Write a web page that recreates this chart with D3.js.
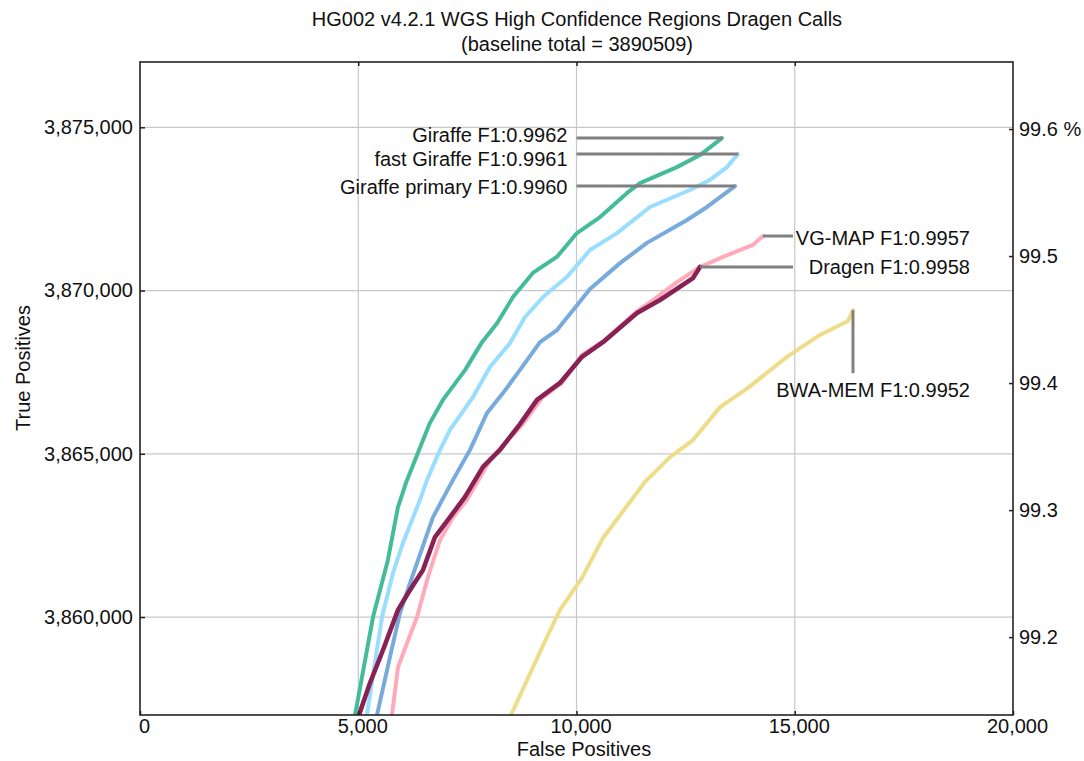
<!DOCTYPE html>
<html>
<head>
<meta charset="utf-8">
<script src="https://cdn.jsdelivr.net/npm/d3@7"></script>
<style>
  html, body { margin: 0; padding: 0; background: #fff; }
  svg { display: block; }
  text { font-family: "Liberation Sans", Arial, sans-serif; fill: #111; }
</style>
</head>
<body>
<svg id="chart" width="1084" height="761"></svg>
<script>
// ---------- data ----------
const titleLines = ["HG002 v4.2.1 WGS High Confidence Regions Dragen Calls", "(baseline total = 3890509)"];
const xAxisTitle = "False Positives";
const yAxisTitle = "True Positives";
const baselineTotal = 3890509;
const xTickValues = [0, 5000, 10000, 15000, 20000];
const yTickValues = [3860000, 3865000, 3870000, 3875000];
const pctTickValues = [99.2, 99.3, 99.4, 99.5, 99.6];

// [false positives, true positives]
const giraffe = [[4926,3857000],[5338,3860000],[5680,3861750],[5910,3863370],[6094,3864110],[6640,3865940],[6940,3866650],[7450,3867570],[7835,3868420],[8180,3869000],[8545,3869800],[9000,3870540],[9550,3871030],[10010,3871760],[10540,3872250],[11160,3872990],[11455,3873290],[12300,3873780],[12830,3874150],[13330,3874670]];
const fastGiraffe = [[5200,3857000],[5544,3860000],[5796,3861350],[6025,3862270],[6415,3863590],[6575,3864200],[6873,3865120],[7102,3865730],[7629,3866740],[8018,3867660],[8477,3868390],[8820,3869190],[9233,3869800],[9782,3870420],[10309,3871240],[10928,3871760],[11684,3872560],[12600,3873080],[13058,3873390],[13448,3873780],[13700,3874180]];
const giraffePrimary = [[5430,3857000],[5727,3858780],[5956,3860120],[6186,3861040],[6712,3863060],[7171,3864200],[7560,3865120],[7950,3866250],[8316,3866860],[8706,3867570],[9164,3868420],[9553,3868790],[9920,3869400],[10309,3870050],[10997,3870840],[11615,3871460],[12532,3872160],[12990,3872560],[13631,3873200]];
const vgMap = [[5773,3857000],[5911,3858470],[6117,3859200],[6346,3860000],[6598,3861230],[6873,3862360],[7171,3863060],[7491,3863590],[7720,3864110],[8018,3864810],[8362,3865330],[8751,3865880],[9210,3866710],[9668,3867170],[10126,3868030],[10653,3868490],[11386,3869370],[11753,3869710],[12302,3870260],[12829,3870720],[13356,3871030],[14044,3871400],[14273,3871670]];
const dragen = [[5017,3857000],[5269,3857980],[5567,3858990],[5911,3860220],[6186,3860830],[6483,3861440],[6758,3862450],[7102,3863060],[7446,3863680],[7858,3864600],[8247,3865120],[8706,3865910],[9095,3866650],[9622,3867170],[10126,3867970],[10607,3868420],[11386,3869310],[11913,3869710],[12669,3870380],[12829,3870720]];
const bwaMem = [[8500,3857000],[8866,3858070],[9324,3859390],[9622,3860220],[10126,3861200],[10607,3862420],[11569,3864140],[12142,3864900],[12669,3865420],[13288,3866430],[13929,3867020],[14822,3867970],[15578,3868640],[16220,3869070],[16334,3869400]];

const seriesNames = ["BWA-MEM F1:0.9952", "VG-MAP F1:0.9957", "Giraffe primary F1:0.9960", "fast Giraffe F1:0.9961", "Giraffe F1:0.9962", "Dragen F1:0.9958"];
const seriesData = [bwaMem, vgMap, giraffePrimary, fastGiraffe, giraffe, dragen];
const seriesColors = ["#EEDD88", "#FFAABB", "#77AADD", "#99DDFF", "#44BB99", "#882255"];

// ---------- layout ----------
const W = 1084, H = 761;
const margin = {top: 62, right: 71, bottom: 46, left: 140};
const iw = W - margin.left - margin.right;
const ih = H - margin.top - margin.bottom;
const FONT = 20;

const svg = d3.select("#chart");
const g = svg.append("g").attr("transform", `translate(${margin.left},${margin.top})`);

const x = d3.scaleLinear().domain([0, 20000]).range([0, iw]);
const y = d3.scaleLinear().domain([3857000, 3877000]).range([ih, 0]);
const yPct = d3.scaleLinear().domain(y.domain().map(v => v / baselineTotal * 100)).range([ih, 0]);

// gridlines
g.append("g").selectAll("line").data(xTickValues.slice(1, -1)).join("line")
  .attr("x1", d => x(d)).attr("x2", d => x(d)).attr("y1", 0).attr("y2", ih)
  .attr("stroke", "#c8c8c8").attr("stroke-width", 1.2);
g.append("g").selectAll("line").data(yTickValues).join("line")
  .attr("y1", d => y(d)).attr("y2", d => y(d)).attr("x1", 0).attr("x2", iw)
  .attr("stroke", "#c8c8c8").attr("stroke-width", 1.2);

// curves
g.append("clipPath").attr("id", "clip").append("rect").attr("width", iw).attr("height", ih);
const line = d3.line().x(d => x(d[0])).y(d => y(d[1]));
g.append("g").attr("clip-path", "url(#clip)").selectAll("path").data(seriesData).join("path")
  .attr("d", line)
  .attr("fill", "none")
  .attr("stroke", (d, i) => seriesColors[i])
  .attr("stroke-width", (d, i) => i === 5 ? 4.6 : 4)
  .attr("stroke-linejoin", "round")
  .attr("stroke-linecap", "round");

// axes
const axisStyle = sel => {
  sel.select(".domain").remove();
  sel.selectAll(".tick line").attr("stroke", "#222").attr("stroke-width", 1.5);
  sel.selectAll(".tick text").style("font-size", FONT + "px").style("font-family", '"Liberation Sans", Arial, sans-serif').attr("fill", "#111");
};
const fmt = d3.format(",");
g.append("g").attr("transform", `translate(0,${ih})`)
  .call(d3.axisBottom(x).tickValues(xTickValues).tickFormat(fmt).tickSizeInner(-4).tickSizeOuter(0).tickPadding(4))
  .call(axisStyle)
  .call(s => s.selectAll(".tick text").attr("dx", 4));
g.append("g")
  .call(d3.axisTop(x).tickValues(xTickValues.slice(1, -1)).tickFormat("").tickSizeInner(-4).tickSizeOuter(0))
  .call(axisStyle);
g.append("g")
  .call(d3.axisLeft(y).tickValues(yTickValues).tickFormat(fmt).tickSizeInner(-5).tickSizeOuter(0).tickPadding(7))
  .call(axisStyle);
g.append("g").attr("transform", `translate(${iw},0)`)
  .call(d3.axisRight(yPct).tickValues(pctTickValues).tickFormat(d => d === 99.6 ? d.toFixed(1) + " %" : d.toFixed(1)).tickSizeInner(-4).tickSizeOuter(0).tickPadding(6))
  .call(axisStyle);

// frame
g.append("rect").attr("width", iw).attr("height", ih).attr("fill", "none")
  .attr("stroke", "#222").attr("stroke-width", 1.6);

// annotations
const labelStartFP = 10000;           // left end of leader lines for the Giraffe labels
const rightLabelEnd = 970 - margin.left;
const rightLeaderEnd = 793 - margin.left;
const ann = g.append("g");
const leader = (x1, y1, x2, y2) => ann.append("line").attr("x1", x1).attr("y1", y1).attr("x2", x2).attr("y2", y2)
  .attr("stroke", "#808080").attr("stroke-width", 3);
const label = (tx, ty, txt, anchor) => ann.append("text").attr("x", tx).attr("y", ty).attr("dy", "0.35em")
  .attr("text-anchor", anchor).style("font-size", FONT + "px").text(txt);

// [series index, vertical text offset]
[[4, -3.5], [3, 4.5], [2, 1]].forEach(([i, off]) => {
  const last = seriesData[i][seriesData[i].length - 1];
  const ly = y(last[1]);
  leader(x(labelStartFP), ly, x(last[0]), ly);
  label(x(labelStartFP) - 9, ly + off, seriesNames[i], "end");
});
[[1, 2], [5, 0]].forEach(([i, off]) => {
  const last = seriesData[i][seriesData[i].length - 1];
  const ly = y(last[1]);
  leader(x(last[0]), ly, rightLeaderEnd, ly);
  label(rightLabelEnd, ly + off, seriesNames[i], "end");
});
{
  const last = bwaMem[bwaMem.length - 1];
  leader(x(last[0]), y(last[1]), x(last[0]), y(last[1]) + 63);
  label(rightLabelEnd, y(last[1]) + 80, seriesNames[0], "end");
}

// titles
svg.append("text").attr("x", 577).attr("y", 26).attr("text-anchor", "middle").style("font-size", FONT + "px").text(titleLines[0]);
svg.append("text").attr("x", 577).attr("y", 51).attr("text-anchor", "middle").style("font-size", FONT + "px").text(titleLines[1]);
svg.append("text").attr("x", 584).attr("y", 756).attr("text-anchor", "middle").style("font-size", FONT + "px").text(xAxisTitle);
svg.append("text").attr("transform", "translate(30,368) rotate(-90)").attr("text-anchor", "middle").style("font-size", FONT + "px").text(yAxisTitle);
</script>
</body>
</html>
